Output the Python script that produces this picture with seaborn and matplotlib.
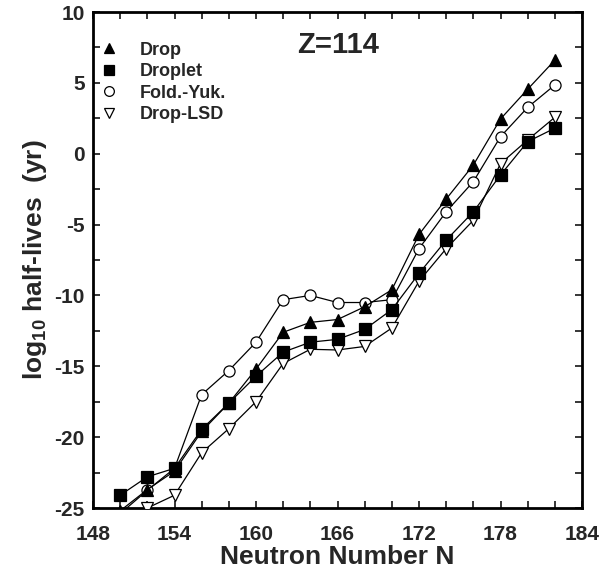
import matplotlib
matplotlib.use("Agg")
import matplotlib.pyplot as plt
import seaborn as sns
import pandas as pd

N = [150, 152, 154, 156, 158, 160, 162, 164, 166, 168, 170, 172, 174, 176, 178, 180, 182]
drop = [-25.2, -23.7, -22.4, -19.6, -17.6, -15.2, -12.6, -11.9, -11.7, -10.8, -9.6, -5.7, -3.2, -0.8, 2.45, 4.55, 6.6]
droplet = [-24.1, -22.8, -22.2, -19.45, -17.6, -15.7, -14.0, -13.3, -13.1, -12.4, -11.0, -8.45, -6.1, -4.1, -1.5, 0.85, 1.8]
foldyuk = [-25.4, -23.75, -22.2, -17.0, -15.3, -13.3, -10.3, -10.0, -10.5, -10.5, -10.3, -6.7, -4.1, -1.97, 1.2, 3.27, 4.85]
droplsd = [-25.6, -25.0, -24.1, -21.1, -19.4, -17.5, -14.8, -13.8, -13.85, -13.6, -12.3, -9.0, -6.7, -4.7, -0.7, 0.97, 2.57]

labels = ["Drop", "Droplet", "Fold.-Yuk.", "Drop-LSD"]
xticks = [148, 154, 160, 166, 172, 178, 184]
yticks = [-25, -20, -15, -10, -5, 0, 5, 10]

sns.set_style("ticks")
plt.rcParams["font.family"] = ["Liberation Sans", "DejaVu Sans"]
plt.rcParams["font.weight"] = "bold"
plt.rcParams["mathtext.default"] = "regular"

fig = plt.figure(figsize=(6.13, 5.84), dpi=100)
ax = fig.add_axes([93 / 613, 1 - 508 / 584, (582 - 93) / 613, (508 - 12) / 584])

series = [drop, droplet, foldyuk, droplsd]
styles = [
    dict(marker="^", markerfacecolor="black", zorder=5),
    dict(marker="s", markerfacecolor="black", zorder=4),
    dict(marker="o", markerfacecolor="white", zorder=2),
    dict(marker="v", markerfacecolor="white", zorder=3),
]
for vals, lab, st in zip(series, labels, styles):
    df = pd.DataFrame({"N": N, "v": vals})
    sns.lineplot(data=df, x="N", y="v", ax=ax, color="black", linewidth=0.9,
                 markersize=8, markeredgecolor="black", markeredgewidth=0.9,
                 label=lab, **st)

ax.set_xlim(148, 184)
ax.set_ylim(-25, 10)
ax.set_xticks(xticks)
ax.set_yticks(yticks)
ax.set_xticks(list(range(148, 185, 2)), minor=True)
ax.set_yticks([-25 + 2.5 * i for i in range(15)], minor=True)
ax.set_xticklabels([str(t) for t in xticks], fontsize=15, fontweight="bold")
ax.set_yticklabels([str(t) for t in yticks], fontsize=15, fontweight="bold")
ax.tick_params(which="both", direction="in", length=5, width=1.3, top=True, right=True)
ax.tick_params(axis="x", pad=12)
ax.tick_params(axis="y", pad=6)
for sp in ax.spines.values():
    sp.set_linewidth(2)
    sp.set_color("black")

ax.set_xlabel("Neutron Number N", fontsize=19, fontweight="bold", labelpad=1)
ax.set_ylabel(r"log$_{10}$ half-lives  (yr)", fontsize=19, fontweight="bold", labelpad=4)

ax.text(0.502, 0.933, "Z=114", transform=ax.transAxes, ha="center", va="center",
        fontsize=21, fontweight="bold")

leg = ax.legend(loc="upper left", frameon=False, fontsize=13, handlelength=1.0,
                handletextpad=1.2, labelspacing=0.25, borderaxespad=0.0,
                bbox_to_anchor=(0.0, 0.955))
for h in leg.legend_handles:
    h.set_linestyle("none")
    h.set_markersize(7)
for t in leg.get_texts():
    t.set_fontweight("bold")

fig.savefig("out.png", dpi=100)
